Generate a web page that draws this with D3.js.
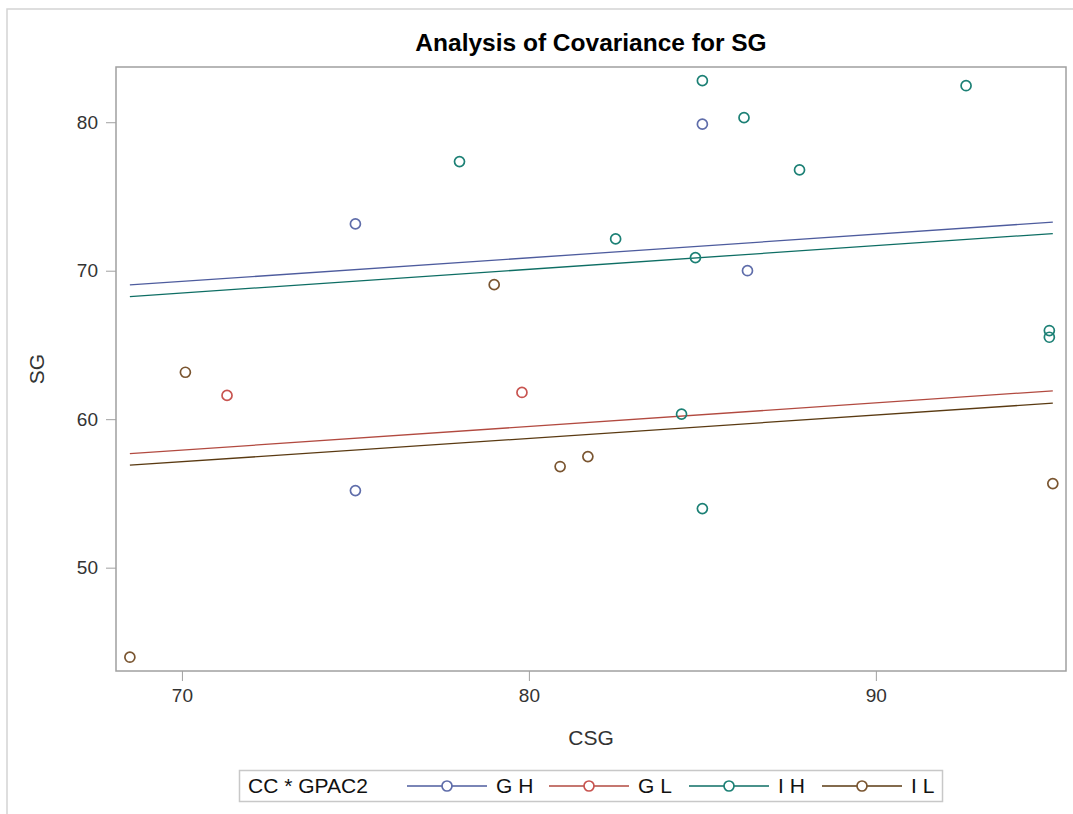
<!DOCTYPE html>
<html>
<head>
<meta charset="utf-8">
<script src="https://cdn.jsdelivr.net/npm/d3@7"></script>
<style>
  body { margin: 0; background: #fff; }
  text { font-family: "Liberation Sans", Arial, sans-serif; }
</style>
</head>
<body>
<div id="vis"></div>
<script>
// Values
const groups = ['G H', 'G L', 'I H', 'I L'];
const lineColors = ['#4E5C9E', '#B24A40', '#0E6E64', '#5A3A12'];
const markerColors = ['#5F6DAA', '#C85450', '#1C8075', '#7A5530'];

// CSG / SG per group
const ghX = [75.0, 75.0, 85.0, 86.3];
const ghY = [73.15, 55.19, 79.87, 70.0];
const glX = [71.3, 79.8];
const glY = [61.6, 61.8];
const ihX = [78.0, 82.5, 84.8, 84.4, 85.0, 85.0, 86.2, 87.8, 92.6, 95.0, 95.0];
const ihY = [77.35, 72.14, 70.88, 60.34, 53.98, 82.8, 80.31, 76.79, 82.46, 65.97, 65.52];
const ilX = [68.5, 70.1, 79.0, 80.9, 81.7, 95.1];
const ilY = [43.97, 63.16, 69.06, 56.81, 57.48, 55.66];

// fitted SG at the smallest and largest CSG (parallel lines)
const fitStart = [69.04, 57.68, 68.26, 56.90];
const fitEnd = [73.27, 61.91, 72.50, 61.08];

const xTicks = [70, 80, 90];
const yTicks = [50, 60, 70, 80];

const W = 1073, H = 814;
const plot = {left: 116, top: 67, right: 1066, bottom: 671};

const svg = d3.select('#vis').append('svg')
    .attr('width', W)
    .attr('height', H);

// outer frame of the output cell
svg.append('path')
    .attr('d', `M7,${H} V9 H${W}`)
    .attr('fill', 'none')
    .attr('stroke', '#d4d4d4')
    .attr('stroke-width', 1.5);

const xScale = d3.scaleLinear().domain([68.1, 95.48]).range([plot.left, plot.right]);
const yScale = d3.scaleLinear().domain([43.04, 83.72]).range([plot.bottom, plot.top]);

const allX = ghX.concat(glX, ihX, ilX);
const xExt = d3.extent(allX);

// title
svg.append('text')
    .attr('x', (plot.left + plot.right) / 2)
    .attr('y', 51)
    .attr('text-anchor', 'middle')
    .style('font-size', '24.5px')
    .style('font-weight', 'bold')
    .style('fill', '#000')
    .text('Analysis of Covariance for SG');

// axes
const xAxis = svg.append('g')
    .attr('transform', `translate(0,${plot.bottom})`)
    .call(d3.axisBottom(xScale).tickValues(xTicks).tickSize(10).tickPadding(8));
const yAxis = svg.append('g')
    .attr('transform', `translate(${plot.left},0)`)
    .call(d3.axisLeft(yScale).tickValues(yTicks).tickSize(10).tickPadding(8));

[xAxis, yAxis].forEach(a => {
    a.select('.domain').remove();
    a.selectAll('line').attr('stroke', '#a0a0a0');
    a.selectAll('text').style('font-size', '19px').style('fill', '#333')
        .style('font-family', '"Liberation Sans", Arial, sans-serif');
});

// plot wall border
svg.append('rect')
    .attr('x', plot.left)
    .attr('y', plot.top)
    .attr('width', plot.right - plot.left)
    .attr('height', plot.bottom - plot.top)
    .attr('fill', 'none')
    .attr('stroke', '#a0a0a0')
    .attr('stroke-width', 1.5);

// axis labels
svg.append('text')
    .attr('x', (plot.left + plot.right) / 2)
    .attr('y', 745)
    .attr('text-anchor', 'middle')
    .style('font-size', '21px')
    .style('fill', '#333')
    .text('CSG');
svg.append('text')
    .attr('transform', `translate(44,${(plot.top + plot.bottom) / 2}) rotate(-90)`)
    .attr('text-anchor', 'middle')
    .style('font-size', '21px')
    .style('fill', '#333')
    .text('SG');

// fit lines
const fits = groups.map((g, i) => ({g, i, pts: [[xExt[0], fitStart[i]], [xExt[1], fitEnd[i]]]}));
const line = d3.line().x(d => xScale(d[0])).y(d => yScale(d[1]));
svg.append('g').selectAll('path')
    .data(fits)
    .enter()
    .append('path')
    .attr('d', d => line(d.pts))
    .attr('fill', 'none')
    .attr('stroke', d => lineColors[d.i])
    .attr('stroke-width', 1.3);

// points
const xs = [ghX, glX, ihX, ilX];
const ys = [ghY, glY, ihY, ilY];
const points = [];
xs.forEach((arr, i) => arr.forEach((x, j) => points.push({i, x, y: ys[i][j]})));
svg.append('g').selectAll('circle')
    .data(points)
    .enter()
    .append('circle')
    .attr('cx', d => xScale(d.x))
    .attr('cy', d => yScale(d.y))
    .attr('r', 5)
    .attr('fill', 'none')
    .attr('stroke', d => markerColors[d.i])
    .attr('stroke-width', 1.7);

// legend
const leg = svg.append('g');
leg.append('rect')
    .attr('x', 239.5).attr('y', 770.5)
    .attr('width', 703).attr('height', 31)
    .attr('fill', '#fff')
    .attr('stroke', '#c8c8c8')
    .attr('stroke-width', 1.5);
leg.append('text')
    .attr('x', 248).attr('y', 793)
    .style('font-size', '21px')
    .style('fill', '#111')
    .text('CC * GPAC2');
const legStart = [407, 549, 689, 822];
groups.forEach((g, i) => {
    const x0 = legStart[i];
    leg.append('line')
        .attr('x1', x0).attr('x2', x0 + 80)
        .attr('y1', 786).attr('y2', 786)
        .attr('stroke', lineColors[i])
        .attr('stroke-width', 1.3);
    leg.append('circle')
        .attr('cx', x0 + 40).attr('cy', 786).attr('r', 5)
        .attr('fill', '#fff')
        .attr('stroke', markerColors[i])
        .attr('stroke-width', 1.7);
    leg.append('text')
        .attr('x', x0 + 89).attr('y', 793)
        .style('font-size', '21px')
        .style('fill', '#111')
        .text(g);
});
</script>
</body>
</html>
